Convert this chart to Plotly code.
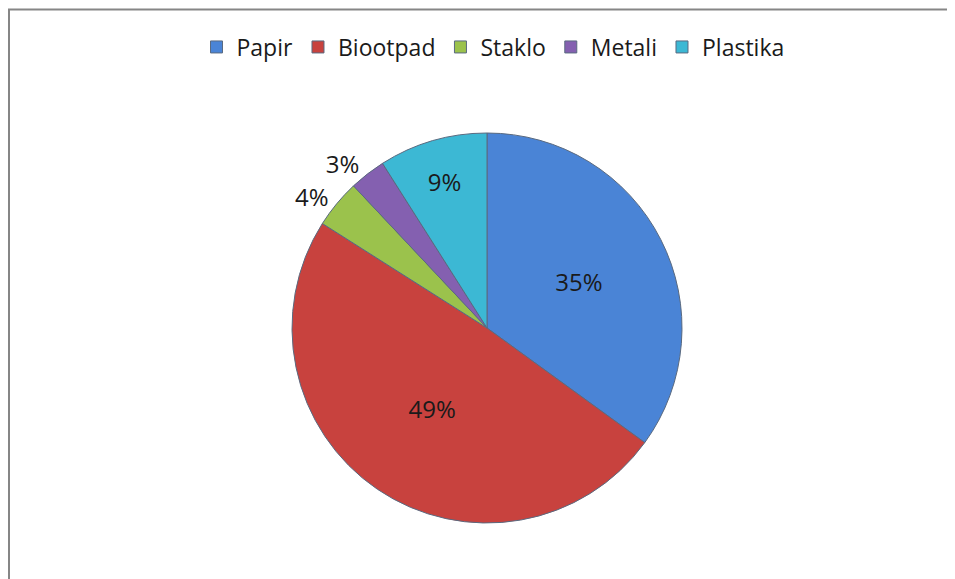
import plotly.graph_objects as go

labels = ["Papir", "Biootpad", "Staklo", "Metali", "Plastika"]
values = [35, 49, 4, 3, 9]
text_labels = ["35%", "49%", "4%", "3%", "9%"]
positions = ["inside", "inside", "outside", "outside", "inside"]
colors = ["#4A84D6", "#C8423E", "#9BC24C", "#8460B0", "#3CB8D4"]

W, H = 955, 579
OFF = 8  # page body margin in the browser
cx, cy, r = 487 - OFF, 328 - OFF, 195

fig = go.Figure(go.Pie(
    labels=labels,
    values=values,
    text=text_labels,
    textinfo="text",
    textposition=positions,
    sort=False,
    direction="clockwise",
    rotation=0,
    marker=dict(colors=colors, line=dict(color="#5a6a80", width=1)),
    textfont=dict(family="Open Sans, Liberation Sans, sans-serif", size=24, color="#1a1a1a"),
    insidetextorientation="horizontal",
    automargin=False,
    domain=dict(x=[(cx - r) / W, (cx + r) / W], y=[1 - (cy + r) / H, 1 - (cy - r) / H]),
))

fig.update_layout(
    width=W, height=H,
    margin=dict(l=0, r=0, t=0, b=0),
    paper_bgcolor="white",
    plot_bgcolor="white",
    showlegend=True,
    legend=dict(
        orientation="h",
        x=(493 - OFF) / W, xanchor="center",
        y=1 - (47 - OFF) / H, yanchor="middle",
        font=dict(family="Open Sans, Liberation Sans, sans-serif", size=23, color="#1a1a1a"),
        itemwidth=30,
        traceorder="normal",
    ),
    shapes=[dict(
        type="rect", xref="paper", yref="paper",
        x0=1 / W, x1=1.05, y0=-0.05, y1=1 - 1.5 / H,
        line=dict(color="#868686", width=2),
        fillcolor="rgba(0,0,0,0)",
    )],
)

fig.write_html("out.html")
